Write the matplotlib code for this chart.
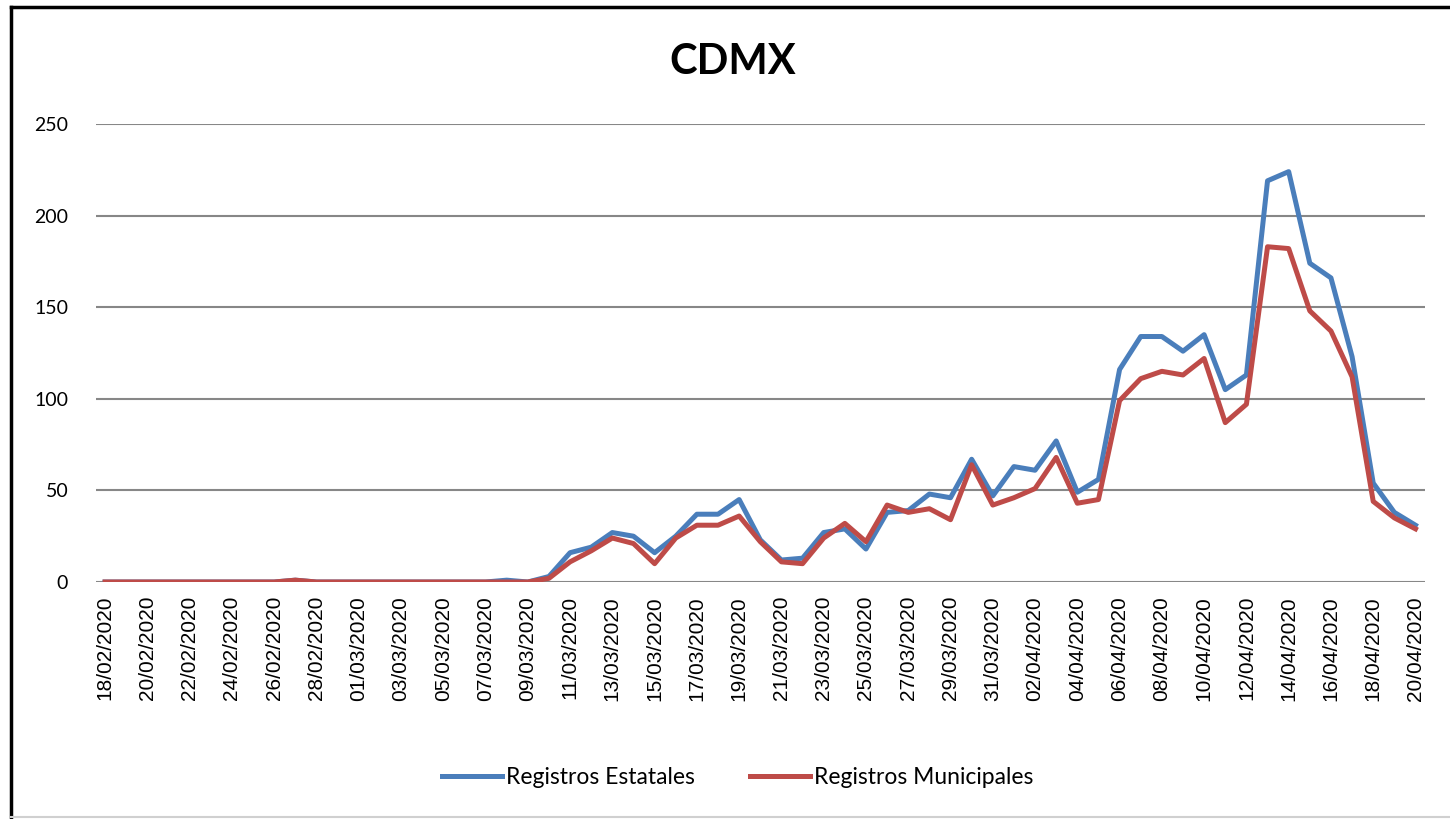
import numpy as np
import pandas as pd
import matplotlib
matplotlib.use("Agg")
import matplotlib.pyplot as plt
from matplotlib.lines import Line2D

# fechas diarias del 18/02/2020 al 20/04/2020
fechas = pd.date_range("2020-02-18", "2020-04-20").strftime("%d/%m/%Y").tolist()

estatales = [0, 0, 0, 0, 0, 0, 0, 0, 0, 1, 0, 0, 0, 0, 0, 0, 0, 0, 0, 1,
             0, 3, 16, 19, 27, 25, 16, 25, 37, 37, 45, 23, 12, 13, 27, 29, 18, 38, 39, 48,
             46, 67, 47, 63, 61, 77, 49, 56, 116, 134, 134, 126, 135, 105, 113, 219, 224, 174, 166, 123,
             54, 38, 31]
municipales = [0, 0, 0, 0, 0, 0, 0, 0, 0, 1, 0, 0, 0, 0, 0, 0, 0, 0, 0, 0,
               0, 2, 11, 17, 24, 21, 10, 24, 31, 31, 36, 22, 11, 10, 24, 32, 22, 42, 38, 40,
               34, 64, 42, 46, 51, 68, 43, 45, 99, 111, 115, 113, 122, 87, 97, 183, 182, 148, 137, 112,
               44, 35, 29]

azul = "#4A7EBB"
rojo = "#BE4B48"

fig = plt.figure(figsize=(14.5, 8.19), dpi=100)
ax = fig.add_axes([96 / 1450, 1 - 582 / 819, (1425 - 96) / 1450, (582 - 124) / 819])

x = np.arange(len(fechas))
ax.plot(x, estatales, color=azul, lw=3.6, label="Registros Estatales", solid_joinstyle="round")
ax.plot(x, municipales, color=rojo, lw=3.6, label="Registros Municipales", solid_joinstyle="round")

ax.set_xlim(-0.43, 62.45)
ax.set_ylim(0, 250)
ax.set_yticks([0, 50, 100, 150, 200, 250])
ax.yaxis.grid(True, color="#878787", lw=1.5)
ax.set_axisbelow(True)
for s in ax.spines.values():
    s.set_visible(False)

ax.set_xticks(x[::2])
ax.set_xticklabels(fechas[::2], rotation=90, fontsize=15, family="Liberation Sans")
ax.tick_params(axis="x", length=0, pad=10)
ax.tick_params(axis="y", length=0, pad=20, labelsize=14)
for t in ax.get_yticklabels():
    t.set_family("Lato")

fig.text(733 / 1450, 1 - 62 / 819, "CDMX", ha="center", va="center",
         fontsize=30, fontweight="bold", family="Lato")

fig.legend(loc="center", bbox_to_anchor=(738 / 1450, 1 - 778 / 819), ncol=2,
           frameon=False, prop={"family": "Lato", "size": 16.5},
           handlelength=2.6, handletextpad=0.2, columnspacing=2.4)

# marco de la captura
fig.add_artist(Line2D([11 / 1450, 11 / 1450], [0, 1 - 7 / 819], color="black", lw=2.5,
                      transform=fig.transFigure))
fig.add_artist(Line2D([11 / 1450, 1], [1 - 7 / 819, 1 - 7 / 819], color="black", lw=2.5,
                      transform=fig.transFigure))
fig.add_artist(Line2D([11 / 1450, 1], [2 / 819, 2 / 819], color="#d0d0d0", lw=1.5,
                      transform=fig.transFigure))

fig.savefig("out.png", dpi=100)
